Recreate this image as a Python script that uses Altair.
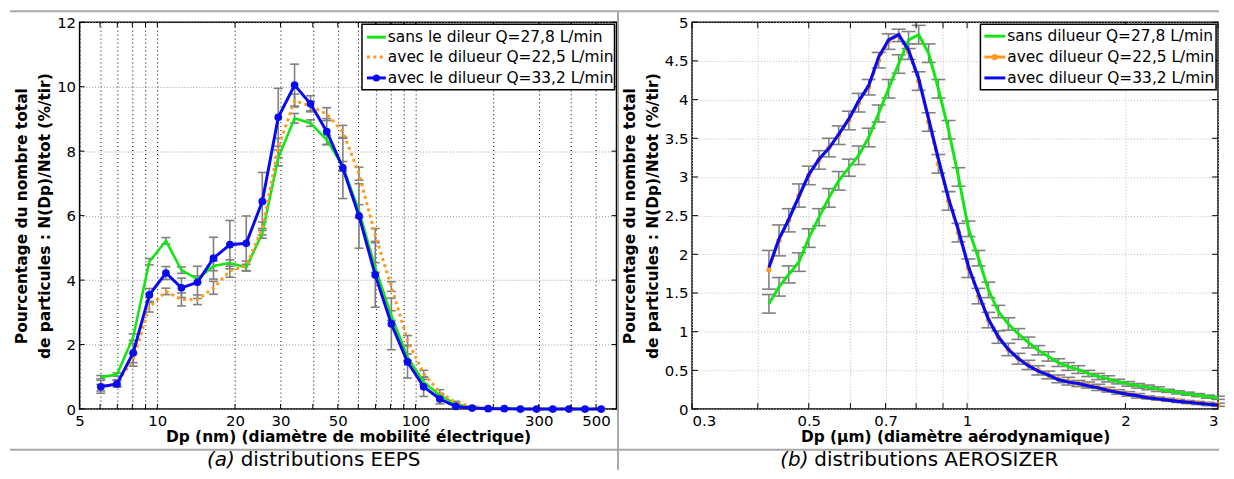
import json
import altair as alt
import pandas as pd

FONT = "DejaVu Sans"
CAP_FONT = "DejaVu Sans"
GREEN = "#14E614"
ORANGE = "#FF9A1F"
BLUE = "#0A0AF0"
GRAY = "#808080"
RULE_GRAY = "#A8A8A8"

# ---------------- (a) EEPS ----------------
eeps_dp = [6.04, 6.98, 8.06, 9.31, 10.8, 12.4, 14.3, 16.5, 19.1, 22.1, 25.5, 29.4, 34.0, 39.2,
           45.3, 52.3, 60.4, 69.8, 80.6, 93.1, 107.5, 124.1, 143.3, 165.5, 191.1, 220.7, 254.8,
           294.3, 339.8, 392.4, 453.2, 523.3]
eeps_sans_278 = [0.99, 1.07, 2.23, 4.57, 5.22, 4.31, 4.03, 4.44, 4.53, 4.39, 5.45, 7.79, 9.02, 8.87,
                 8.35, 7.53, 6.14, 4.39, 2.90, 1.61, 0.84, 0.43, 0.15, 0.05, 0.02, 0.01, 0.0,
                 0.0, 0.0, 0.0, 0.0, 0.0]
eeps_sans_278_err = [0.05, 0.05, 0.1, 0.1, 0.1, 0.1, 0.1, 0.15, 0.1, 0.1, 0.15, 0.25, 0.15, 0.1,
                     0.15, 0.15, 0.2, 0.15, 0.15, 0.1, 0.08, 0.05, 0.03, 0.01, 0.0, 0.0, 0.0,
                     0.0, 0.0, 0.0, 0.0, 0.0]
eeps_avec_225 = [0.66, 0.81, 1.53, 3.16, 3.65, 3.40, 3.39, 3.76, 4.29, 4.44, 5.60, 8.10, 9.57, 9.40,
                 9.15, 8.60, 7.30, 5.40, 3.80, 2.13, 1.10, 0.52, 0.20, 0.07, 0.03, 0.01, 0.0,
                 0.0, 0.0, 0.0, 0.0, 0.0]
eeps_avec_225_err = [0.1, 0.1, 0.2, 0.15, 0.1, 0.2, 0.15, 0.2, 0.2, 0.15, 0.2, 0.3, 0.2, 0.15,
                     0.2, 0.2, 0.2, 0.2, 0.15, 0.15, 0.1, 0.08, 0.04, 0.02, 0.01, 0.0, 0.0,
                     0.0, 0.0, 0.0, 0.0, 0.0]
eeps_avec_332 = [0.69, 0.78, 1.74, 3.54, 4.22, 3.76, 3.93, 4.68, 5.10, 5.14, 6.44, 9.05, 10.05, 9.47,
                 8.61, 7.48, 5.99, 4.16, 2.64, 1.46, 0.69, 0.31, 0.08, 0.03, 0.01, 0.01, 0.0,
                 0.0, 0.0, 0.0, 0.0, 0.0]
eeps_avec_332_err = [0.2, 0.1, 0.3, 0.2, 0.2, 0.3, 0.5, 0.65, 0.75, 0.85, 0.9, 0.9, 0.65, 0.25,
                     0.4, 0.95, 1.0, 1.0, 0.8, 0.5, 0.3, 0.15, 0.05, 0.02, 0.01, 0.0, 0.0,
                     0.0, 0.0, 0.0, 0.0, 0.0]
eeps_labels = ["sans le dileur Q=27,8 L/min", "avec le dilueur Q=22,5 L/min",
               "avec le dilueur Q=33,2 L/min"]
eeps_x_ticks = [5, 6, 7, 8, 9, 10, 20, 30, 40, 50, 60, 70, 80, 90, 100, 200, 300, 400, 500]
eeps_x_labels = [5, 10, 20, 30, 50, 100, 300, 500]
eeps_y_ticks = [0, 2, 4, 6, 8, 10, 12]

# ---------------- (b) AEROSIZER ----------------
aero_dp = [0.420, 0.439, 0.458, 0.479, 0.500, 0.523, 0.546, 0.570, 0.596, 0.622, 0.650, 0.679,
           0.709, 0.741, 0.774, 0.809, 0.845, 0.882, 0.922, 0.963, 1.006, 1.051, 1.098, 1.147,
           1.198, 1.252, 1.308, 1.366, 1.427, 1.491, 1.557, 1.627, 1.699, 1.775, 1.855, 1.937,
           2.024, 2.114, 2.209, 2.307, 2.410, 2.518, 2.630, 2.748, 2.870, 2.998]
aero_sans_278 = [1.36, 1.58, 1.74, 1.90, 2.21, 2.48, 2.73, 2.95, 3.12, 3.28, 3.51, 3.82, 4.14, 4.46,
                 4.77, 4.84, 4.60, 4.14, 3.61, 3.00, 2.33, 1.95, 1.54, 1.26, 1.10, 0.97, 0.86,
                 0.76, 0.68, 0.60, 0.55, 0.51, 0.46, 0.42, 0.39, 0.355, 0.325, 0.30, 0.28, 0.257,
                 0.235, 0.215, 0.198, 0.18, 0.16, 0.145]
aero_sans_278_err = [0.12, 0.12, 0.11, 0.12, 0.12, 0.11, 0.12, 0.12, 0.11, 0.12, 0.12, 0.11, 0.12,
                     0.12, 0.11, 0.12, 0.12, 0.12, 0.12, 0.12, 0.1, 0.1, 0.1, 0.08, 0.08, 0.07,
                     0.07, 0.06, 0.06, 0.05, 0.05, 0.05, 0.04, 0.04, 0.04, 0.03, 0.03, 0.03, 0.03,
                     0.03, 0.02, 0.02, 0.02, 0.02, 0.02, 0.02]
aero_avec_225 = [1.80, 2.18, 2.44, 2.76, 3.02, 3.22, 3.38, 3.54, 3.73, 3.96, 4.16, 4.51, 4.75, 4.83,
                 4.62, 4.24, 3.71, 3.17, 2.69, 2.28, 1.82, 1.46, 1.15, 0.93, 0.77, 0.65, 0.57,
                 0.50, 0.44, 0.39, 0.36, 0.33, 0.31, 0.28, 0.25, 0.22, 0.195, 0.17, 0.15, 0.135,
                 0.12, 0.105, 0.09, 0.078, 0.066, 0.055]
aero_avec_225_err = [0.25, 0.2, 0.15, 0.15, 0.12, 0.12, 0.12, 0.12, 0.12, 0.12, 0.1, 0.1, 0.1,
                     0.08, 0.1, 0.12, 0.12, 0.12, 0.12, 0.12, 0.12, 0.1, 0.1, 0.08, 0.08, 0.07,
                     0.06, 0.06, 0.05, 0.05, 0.05, 0.04, 0.04, 0.04, 0.03, 0.03, 0.03, 0.03, 0.02,
                     0.02, 0.02, 0.02, 0.02, 0.02, 0.02, 0.02]
aero_avec_332 = [1.83, 2.20, 2.45, 2.75, 3.03, 3.23, 3.37, 3.55, 3.75, 3.98, 4.18, 4.55, 4.77, 4.84,
                 4.64, 4.27, 3.75, 3.23, 2.72, 2.31, 1.84, 1.49, 1.16, 0.93, 0.77, 0.65, 0.56,
                 0.49, 0.44, 0.38, 0.35, 0.33, 0.30, 0.275, 0.24, 0.214, 0.19, 0.17, 0.145, 0.13,
                 0.116, 0.10, 0.088, 0.075, 0.062, 0.05]
aero_labels = ["sans dilueur Q=27,8 L/min", "avec dilueur Q=22,5 L/min",
               "avec dilueur Q=33,2 L/min"]
aero_x_ticks = [0.3, 0.4, 0.5, 0.6, 0.7, 0.8, 0.9, 1, 2, 3]
aero_x_labels = [0.3, 0.5, 0.7, 1, 2, 3]
aero_y_ticks = [0, 0.5, 1, 1.5, 2, 2.5, 3, 3.5, 4, 4.5, 5]

Y_TITLE = ["Pourcentage du nombre total", "de particules : N(Dp)/Ntot (%/tir)"]

W1, W2, H = 540, 529, 389
SPACING = 76


def frame(xs, ys, es):
    return pd.DataFrame({
        "dp": xs, "v": ys,
        "lo": [max(y - e, 0.0) for y, e in zip(ys, es)],
        "hi": [y + e for y, e in zip(ys, es)],
    })


def one(txt=""):
    return pd.DataFrame({"t": [txt]})


def x_axis(ticks, labels, title, gcolor, gdash, flush):
    expr = "indexof(%s, datum.value) >= 0 ? datum.label : ''" % json.dumps(labels)
    return alt.Axis(values=ticks, labelExpr=expr, format="~g", title=title,
                    grid=True, gridColor=gcolor, gridDash=gdash, gridWidth=1, gridOpacity=1,
                    ticks=False, tickSize=0, domain=False,
                    labelFont=FONT, labelFontSize=15, labelColor="black", labelPadding=5,
                    labelFlush=flush, labelOverlap=False,
                    titleFont=FONT, titleFontSize=15.5, titleFontWeight="bold",
                    titleColor="black", titlePadding=1)


def y_axis(ticks, gcolor, gdash):
    return alt.Axis(values=ticks, format="~g", title=Y_TITLE,
                    grid=True, gridColor=gcolor, gridDash=gdash, gridWidth=1, gridOpacity=1,
                    ticks=False, tickSize=0, domain=False,
                    labelFont=FONT, labelFontSize=15, labelColor="black", labelPadding=4,
                    labelOverlap=False, labelFlush=False,
                    titleFont=FONT, titleFontSize=15.5, titleFontWeight="bold",
                    titleColor="black", titlePadding=4, titleLineHeight=23)


def inward_ticks(xticks, yticks, XF, YF, W, L):
    dx = pd.DataFrame({"t": xticks})
    dy = pd.DataFrame({"t": yticks})
    return [
        alt.Chart(dx).mark_rule(color="black", strokeWidth=1).encode(
            x=XF("t"), y=alt.value(H), y2=alt.value(H - L)),
        alt.Chart(dx).mark_rule(color="black", strokeWidth=1).encode(
            x=XF("t"), y=alt.value(0), y2=alt.value(L)),
        alt.Chart(dy).mark_rule(color="black", strokeWidth=1).encode(
            y=YF("t"), x=alt.value(0), x2=alt.value(L)),
        alt.Chart(dy).mark_rule(color="black", strokeWidth=1).encode(
            y=YF("t"), x=alt.value(W), x2=alt.value(W - L)),
    ]


def err_layers(dfs, XF, YF, cap):
    d = pd.concat(dfs, ignore_index=True)
    d = d[d["hi"] - d["lo"] > 0.001]
    return [
        alt.Chart(d).mark_rule(color=GRAY, strokeWidth=1.6).encode(
            x=XF("dp"), y=YF("lo"), y2=alt.Y2("hi")),
        alt.Chart(d).mark_tick(color=GRAY, orient="horizontal", size=cap, thickness=1.6,
                               opacity=1).encode(x=XF("dp"), y=YF("lo")),
        alt.Chart(d).mark_tick(color=GRAY, orient="horizontal", size=cap, thickness=1.6,
                               opacity=1).encode(x=XF("dp"), y=YF("hi")),
    ]


def legend(labels, styles, bx0, bx1, by0, by1, lx0, lx1, tx, ys):
    out = [alt.Chart(one()).mark_rect(fill="white", stroke="black", strokeWidth=1.5).encode(
        x=alt.value(bx0), x2=alt.value(bx1), y=alt.value(by0), y2=alt.value(by1))]
    for lab, st, yy in zip(labels, styles, ys):
        rule_kw = dict(color=st["color"], strokeWidth=st["w"])
        if st.get("dash"):
            rule_kw["strokeDash"] = st["dash"]
        out.append(alt.Chart(one()).mark_rule(**rule_kw).encode(
            x=alt.value(lx0), x2=alt.value(lx1), y=alt.value(yy)))
        if st.get("pt"):
            out.append(alt.Chart(one()).mark_point(filled=True, opacity=1, color=st["color"],
                                                  size=st["pt"]).encode(
                x=alt.value((lx0 + lx1) / 2), y=alt.value(yy)))
        out.append(alt.Chart(one(lab)).mark_text(align="left", baseline="middle", font=FONT,
                                                 fontSize=15.5, color="black").encode(
            x=alt.value(tx), y=alt.value(yy), text="t:N"))
    return out


def caption(letter, words, xr, y):
    return [
        alt.Chart(one(letter)).mark_text(align="right", baseline="middle", font=CAP_FONT,
                                         fontSize=20, fontStyle="italic", color="black").encode(
            x=alt.value(xr), y=alt.value(y), text="t:N"),
        alt.Chart(one(words)).mark_text(align="left", baseline="middle", font=CAP_FONT,
                                        fontSize=20, color="black").encode(
            x=alt.value(xr + 6), y=alt.value(y), text="t:N"),
    ]


# ---------------- left panel ----------------
sxL = alt.Scale(type="log", domain=[5, 600], nice=False)
syL = alt.Scale(domain=[0, 12], nice=False)
axL = x_axis(eeps_x_ticks, eeps_x_labels, "Dp (nm) (diamètre de mobilité électrique)",
             "black", [1, 3], False)
ayL = y_axis(eeps_y_ticks, "#999999", [1, 2])


def XL(f):
    return alt.X(f"{f}:Q", scale=sxL, axis=axL)


def YL(f):
    return alt.Y(f"{f}:Q", scale=syL, axis=ayL)


gL = frame(eeps_dp, eeps_sans_278, eeps_sans_278_err)
oL = frame(eeps_dp, eeps_avec_225, eeps_avec_225_err)
bL = frame(eeps_dp, eeps_avec_332, eeps_avec_332_err)

left_layers = []
left_layers += err_layers([gL, oL, bL], XL, YL, 9)
left_layers += [
    alt.Chart(gL).mark_line(color=GREEN, strokeWidth=2.6).encode(x=XL("dp"), y=YL("v")),
    alt.Chart(oL).mark_line(color=ORANGE, strokeWidth=3, strokeDash=[3, 3.5]).encode(
        x=XL("dp"), y=YL("v")),
    alt.Chart(bL).mark_line(color=BLUE, strokeWidth=3).encode(x=XL("dp"), y=YL("v")),
    alt.Chart(bL).mark_point(filled=True, opacity=1, color=BLUE, size=60).encode(
        x=XL("dp"), y=YL("v")),
]
left_layers += inward_ticks(eeps_x_ticks, eeps_y_ticks, XL, YL, W1, 5)
left_layers += legend(
    eeps_labels,
    [dict(color=GREEN, w=3), dict(color=ORANGE, w=3, dash=[3, 3.5]),
     dict(color=BLUE, w=3, pt=50)],
    284, 538, 2, 68, 289, 308, 310, [15, 35, 56])
left_layers += caption("(a)", "distributions EEPS", 156, 440)
# table lines (figure frame)
RIGHT_END = W1 + SPACING + W2 + 1 - 0  # end of lines, relative to left plot
left_layers += [
    alt.Chart(one()).mark_rule(color=RULE_GRAY, strokeWidth=2).encode(
        x=alt.value(-70), x2=alt.value(RIGHT_END), y=alt.value(-11)),
    alt.Chart(one()).mark_rule(color=RULE_GRAY, strokeWidth=2).encode(
        x=alt.value(-70), x2=alt.value(RIGHT_END), y=alt.value(430)),
    alt.Chart(one()).mark_rule(color=RULE_GRAY, strokeWidth=2).encode(
        x=alt.value(541.5), y=alt.value(-11), y2=alt.value(450)),
]
left = alt.layer(*left_layers).properties(width=W1, height=H)

# ---------------- right panel ----------------
sxR = alt.Scale(type="log", domain=[0.3, 3], nice=False)
syR = alt.Scale(domain=[0, 5], nice=False)
axR = x_axis(aero_x_ticks, aero_x_labels, "Dp (µm) (diamètre aérodynamique)", "#BBBBBB",
             [1, 2], True)
ayR = y_axis(aero_y_ticks, "#BBBBBB", [1, 2])


def XR(f):
    return alt.X(f"{f}:Q", scale=sxR, axis=axR)


def YR(f):
    return alt.Y(f"{f}:Q", scale=syR, axis=ayR)


gR = frame(aero_dp, aero_sans_278, aero_sans_278_err)
oR = frame(aero_dp, aero_avec_225, aero_avec_225_err)
bR = frame(aero_dp, aero_avec_332, [0.0] * len(aero_dp))

right_layers = []
right_layers += err_layers([gR, oR], XR, YR, 14)
right_layers += [
    alt.Chart(gR).mark_line(color=GREEN, strokeWidth=3).encode(x=XR("dp"), y=YR("v")),
    alt.Chart(oR).mark_line(color=ORANGE, strokeWidth=2.5, strokeDash=[4, 3]).encode(
        x=XR("dp"), y=YR("v")),
    alt.Chart(oR).mark_point(filled=True, opacity=1, color=ORANGE, size=28).encode(
        x=XR("dp"), y=YR("v")),
    alt.Chart(bR).mark_line(color=BLUE, strokeWidth=3.2).encode(x=XR("dp"), y=YR("v")),
]
right_layers += inward_ticks(aero_x_ticks, aero_y_ticks, XR, YR, W2, 6)
right_layers += legend(
    aero_labels,
    [dict(color=GREEN, w=3), dict(color=ORANGE, w=3, pt=40), dict(color=BLUE, w=3)],
    290, 527, 2, 68, 294, 315, 317, [14, 35, 56])
right_layers += caption("(b)", "distributions AEROSIZER", 117, 440)
right = alt.layer(*right_layers).properties(width=W2, height=H)

chart = alt.hconcat(left, right, spacing=SPACING, bounds="flush").properties(
    padding=0, background="white"
).configure_view(stroke="black", strokeWidth=1.5)

chart.save("out.html", embed_options={"renderer": "svg", "actions": False})
